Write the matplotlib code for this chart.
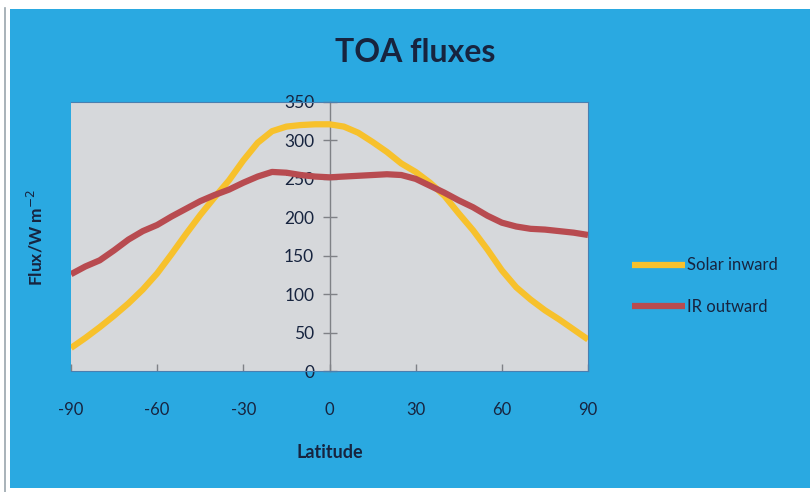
import matplotlib.pyplot as plt
from matplotlib.patches import Rectangle
from matplotlib.lines import Line2D

plt.rcParams['font.family'] = ['Lato', 'DejaVu Sans']
plt.rcParams['axes.unicode_minus'] = False

# zonal mean top-of-atmosphere fluxes, every 5 degrees
latitude = list(range(-90, 91, 5))
solar_inward = [30, 43, 57, 72, 88, 106, 127, 152, 178, 203,
                226, 248, 274, 297, 312, 318, 320, 321, 321,
                318, 310, 298, 285, 270, 259, 245, 228, 205,
                183, 158, 131, 109, 93, 79, 67, 54, 41]
ir_outward = [126, 136, 144, 157, 171, 182, 190, 201, 211, 221,
              229, 236, 245, 253, 259, 258, 255, 253, 252,
              253, 254, 255, 256, 255, 250, 241, 232, 222,
              213, 202, 193, 188, 185, 184, 182, 180, 177]

xticks = [-90, -60, -30, 0, 30, 60, 90]
yticks = [0, 50, 100, 150, 200, 250, 300, 350]

blue = '#2aa9e1'
navy = '#17243f'
yellow = '#f7c12c'
red = '#b84b50'

fig = plt.figure(figsize=(8.1, 4.92), dpi=100, facecolor='white')

# slide background
fig.patches.append(Rectangle((10 / 810, 4 / 492), 800 / 810, 479 / 492,
                             transform=fig.transFigure, facecolor=blue,
                             edgecolor='none', zorder=-5))
fig.add_artist(Line2D([5 / 810, 5 / 810], [0.0, 484 / 492],
                      transform=fig.transFigure, color='#9aa5ad', lw=1.2,
                      zorder=-4))

ax = fig.add_axes([71 / 810, 121 / 492, 517 / 810, 269 / 492])
ax.set_zorder(2)
ax.set_facecolor('#d6d8db')

ax.plot(latitude, solar_inward, color=yellow, lw=4.5, solid_capstyle='butt',
        solid_joinstyle='round', label='Solar inward', zorder=3)
ax.plot(latitude, ir_outward, color=red, lw=4.5, solid_capstyle='butt',
        solid_joinstyle='round', label='IR outward', zorder=3)

ax.set_xlim(-90, 90)
ax.set_ylim(0, 350)
ax.set_xticks(xticks)
ax.set_yticks(yticks)

ax.spines['left'].set_position(('data', 0))
ax.spines['left'].set_color('#7f8186')
ax.spines['left'].set_linewidth(1.0)
for side in ['top', 'right', 'bottom']:
    ax.spines[side].set_color('#4a7fb0')
    ax.spines[side].set_linewidth(0.8)

ax.tick_params(axis='y', direction='inout', length=10, width=1.0,
               color='#7f8186', pad=6, labelsize=12.5, labelcolor=navy)
ax.tick_params(axis='x', direction='in', length=5, width=1.0,
               color='#7f8186', pad=22, labelsize=12, labelcolor=navy)

ax.set_title('TOA fluxes', fontsize=23, fontweight='bold', color=navy,
             x=(415 - 71) / 517, pad=29)
ax.set_xlabel('Latitude', fontsize=13, fontweight='bold', color=navy,
              labelpad=19)
fig.text(35 / 810, 1 - 237 / 492, 'Flux/W m$^{-2}$', rotation=90,
         ha='center', va='center', fontsize=12.5, fontweight='bold',
         color=navy)

fig.legend(loc='center left', bbox_to_anchor=(617 / 810, 1 - 286 / 492),
           frameon=False, fontsize=12, labelcolor=navy, handlelength=3.2,
           handletextpad=0.1, labelspacing=1.5)

fig.savefig('out.png', dpi=100, facecolor=fig.get_facecolor())
